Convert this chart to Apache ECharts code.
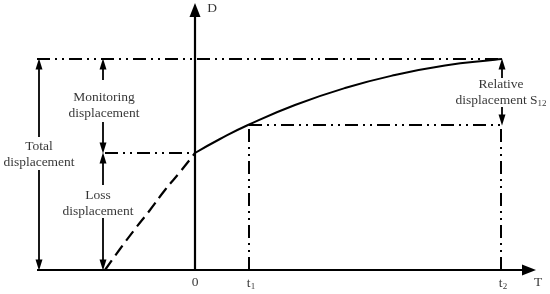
<!DOCTYPE html>
<html><head><meta charset="utf-8">
<script src="https://cdn.jsdelivr.net/npm/echarts@6/dist/echarts.min.js"></script>
<style>html,body{margin:0;padding:0;background:#fff}#c{width:550px;height:294px}</style>
</head><body><div id="c"></div>
<script>
// Loss (dashed) part of the curve, before T = 0
const lossT = [-90, -75, -60, -45, -30, -15, 0];
const lossD = [0, 21, 41, 60, 80, 98, 117];
// Monitoring (solid) part of the curve, after T = 0
const monT = [0, 25, 53, 100, 150, 200, 250, 300, 307];
const monD = [117, 131, 145, 165, 182, 195, 204.5, 210.3, 211];
// Reference dash-dot-dot lines [[T1,D1],[T2,D2]]
const refLines = [
  [[-158, 211], [307, 211]],
  [[-90, 117], [0, 117]],
  [[54, 145], [307, 145]],
  [[54, 0], [54, 145]],
  [[306, 0], [306, 145]]
];
// Annotation arrows [from, to(arrowhead centre)]
const arrows = [
  [[-156, 133], [-156, 206]], [[-156, 100], [-156, 5]],
  [[-92, 190], [-92, 206]], [[-92, 148], [-92, 122]],
  [[-92, 85], [-92, 112]], [[-92, 52], [-92, 5]],
  [[307, 192], [307, 206]], [[307, 163], [307, 150]]
];
// Axes [from, to(arrowhead centre)]
const axesLines = [
  [[-158, 0], [334, 0]],
  [[0, 0], [0, 260]]
];
// Text labels
const labelTexts = [
  'Total\ndisplacement',
  'Monitoring\ndisplacement',
  'Loss\ndisplacement',
  'Relative\ndisplacement S{s|12}',
  'D', 'T', '0', 't{s|1}', 't{s|2}'
];
const labelPos = [
  [-156, 116], [-91, 165], [-97, 67], [306, 178],
  [17, 262], [343, -12], [0, -12], [56, -13], [308, -13]
];

const font = '"Liberation Serif", "Times New Roman", serif';
const chart = echarts.init(document.getElementById('c'), null, {renderer: 'canvas'});

const series = [];
series.push({
  type: 'line', data: lossT.map((t, i) => [t, lossD[i]]), smooth: true,
  symbol: 'none', lineStyle: {color: '#000', width: 2.2, type: [12, 6]}, silent: true
});
series.push({
  type: 'line', data: monT.map((t, i) => [t, monD[i]]), smooth: true,
  symbol: 'none', lineStyle: {color: '#000', width: 2}, silent: true
});
refLines.forEach(seg => series.push({
  type: 'line', data: seg, symbol: 'none', silent: true,
  lineStyle: {color: '#000', width: 2, type: [13, 5, 2, 5, 2, 5]}
}));
series.push({
  type: 'line', data: [], silent: true,
  markLine: {
    silent: true, animation: false, symbol: ['none', 'triangle'], symbolSize: [11, 14],
    label: {show: false}, lineStyle: {color: '#000', width: 2.2, type: 'solid'},
    emphasis: {disabled: true},
    data: axesLines.map(s => [{coord: s[0]}, {coord: s[1]}])
  }
});
series.push({
  type: 'line', data: [], silent: true,
  markLine: {
    silent: true, animation: false, symbol: ['none', 'triangle'], symbolSize: [7, 11],
    label: {show: false}, lineStyle: {color: '#000', width: 1.8, type: 'solid'},
    emphasis: {disabled: true},
    data: arrows.map(s => [{coord: s[0]}, {coord: s[1]}])
  }
});
series.push({
  type: 'scatter', silent: true, symbolSize: 1, itemStyle: {color: 'rgba(0,0,0,0)'},
  data: labelPos.map((p, i) => ({value: p, label: {formatter: labelTexts[i]}})),
  label: {
    show: true, position: 'inside', color: '#000', fontFamily: font, fontSize: 13.5,
    lineHeight: 16, align: 'center', verticalAlign: 'middle',
    rich: {s: {fontFamily: font, fontSize: 9, lineHeight: 8, verticalAlign: 'bottom', color: '#000'}}
  }
});

chart.setOption({
  animation: false,
  backgroundColor: '#fff',
  grid: {left: 0, right: 0, top: 0, bottom: 0},
  xAxis: {type: 'value', min: -195, max: 355, show: false},
  yAxis: {type: 'value', min: -24, max: 270, show: false},
  series: series
});
</script></body></html>
